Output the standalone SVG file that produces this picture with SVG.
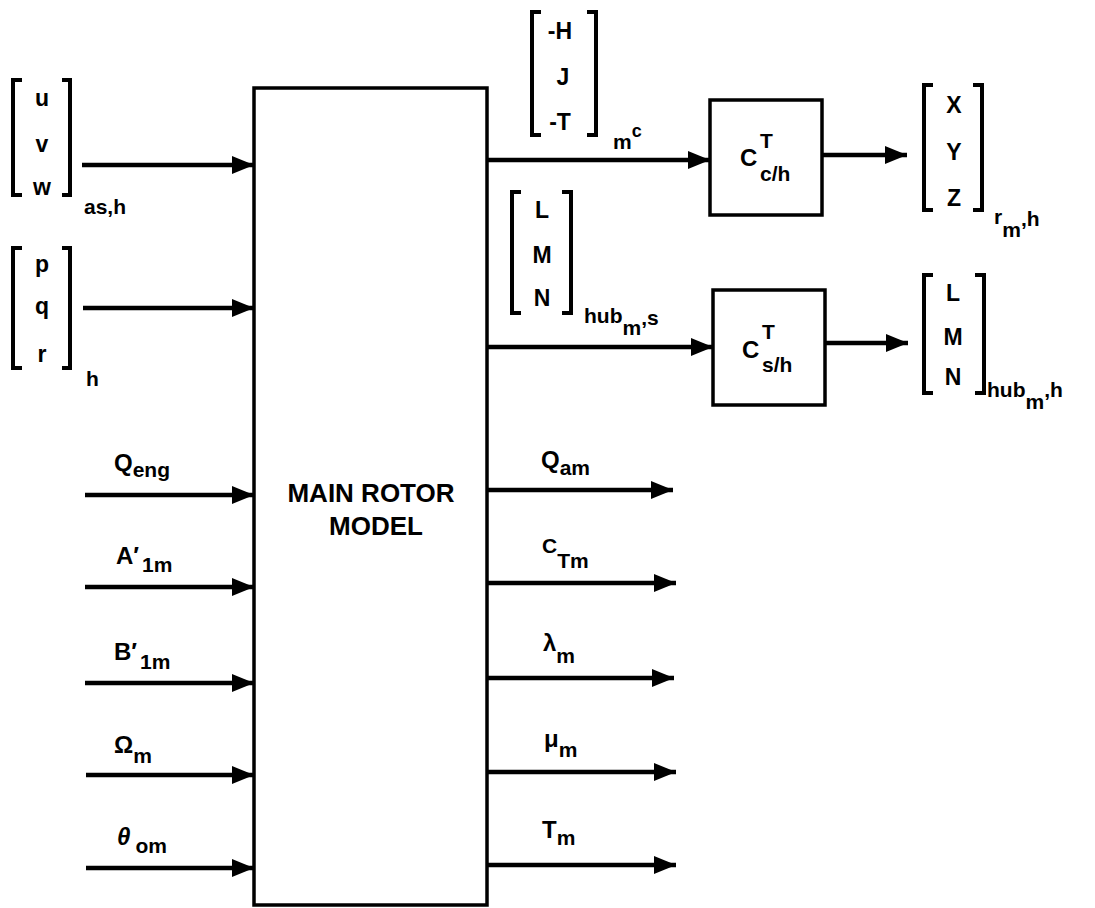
<svg xmlns="http://www.w3.org/2000/svg" width="1095" height="908" viewBox="0 0 1095 908">
<style>
text{font-family:"Liberation Sans",Arial,sans-serif;font-weight:bold;fill:#000}
.v{font-size:23px;text-anchor:middle}
.lb{font-size:24px}
.sb{font-size:21px}
.box{fill:#fff;stroke:#000;stroke-width:3.5}
.br{fill:none;stroke:#000;stroke-width:4;stroke-linejoin:miter}
.c{fill:none;stroke:#000;stroke-width:4.5;marker-end:url(#ah)}
</style>
<defs>
<marker id="ah" markerUnits="userSpaceOnUse" markerWidth="24" markerHeight="20" refX="22" refY="9" orient="auto">
<path d="M0,0 L22,9 L0,18 Z" fill="#000"/>
</marker>
</defs>
<rect width="1095" height="908" fill="#fff"/>

<g id="main-rotor">
<rect class="box" x="254" y="88" width="233" height="817"/>
<text x="371" y="502" font-size="26" text-anchor="middle">MAIN ROTOR</text>
<text x="376" y="535" font-size="26" text-anchor="middle">MODEL</text>
</g>

<g id="c-ch">
<rect class="box" x="710" y="100" width="112" height="115"/>
<text x="740" y="166" class="lb">C</text>
<text x="760" y="148" class="sb">T</text>
<text x="760" y="181" class="sb">c/h</text>
</g>

<g id="c-sh">
<rect class="box" x="713" y="290" width="112" height="115"/>
<text x="742" y="358" class="lb">C</text>
<text x="762" y="339" class="sb">T</text>
<text x="762" y="372" class="sb">s/h</text>
</g>

<g id="vec-uvw">
<path class="br" d="M22,80 H13 V195 H22 M62,80 H70 V195 H62"/>
<text class="v" x="42" y="106">u</text>
<text class="v" x="42" y="152">v</text>
<text class="v" x="42" y="195">w</text>
<text class="sb" x="84" y="214">as,h</text>
</g>

<g id="vec-pqr">
<path class="br" d="M22,248 H13 V368 H22 M62,248 H70 V368 H62"/>
<text class="v" x="42" y="272">p</text>
<text class="v" x="42" y="314">q</text>
<text class="v" x="42" y="362">r</text>
<text class="sb" x="86" y="386">h</text>
</g>

<g id="vec-hjt">
<path class="br" d="M541,12 H532 V135 H541 M587,12 H596 V135 H587"/>
<text class="v" x="560" y="39">-H</text>
<text class="v" x="563" y="85">J</text>
<text class="v" x="560" y="130">-T</text>
<text class="sb" x="613" y="149">m<tspan dy="-12" font-size="18">c</tspan></text>
</g>

<g id="vec-lmn-s">
<path class="br" d="M521,192 H512 V313 H521 M562,192 H571 V313 H562"/>
<text class="v" x="542" y="218">L</text>
<text class="v" x="542" y="263">M</text>
<text class="v" x="542" y="306">N</text>
<text class="sb" x="584" y="323">hub<tspan dy="12">m</tspan><tspan dy="-10">,s</tspan></text>
</g>

<g id="vec-xyz">
<path class="br" d="M933,85 H924 V210 H933 M973,85 H982 V210 H973"/>
<text class="v" x="954" y="113">X</text>
<text class="v" x="954" y="160">Y</text>
<text class="v" x="954" y="206">Z</text>
<text class="sb" x="994" y="224">r<tspan dy="13">m</tspan><tspan dy="-11">,h</tspan></text>
</g>

<g id="vec-lmn-h">
<path class="br" d="M933,275 H924 V393 H933 M975,275 H984 V393 H975"/>
<text class="v" x="953" y="301">L</text>
<text class="v" x="953" y="345">M</text>
<text class="v" x="953" y="385">N</text>
<text class="sb" x="987" y="397">hub<tspan dy="12">m</tspan><tspan dy="-12">,h</tspan></text>
</g>

<g id="in-labels">
<text class="lb" x="114" y="471">Q<tspan class="sb" dy="6">eng</tspan></text>
<text class="lb" x="116" y="564">A′<tspan class="sb" dy="8" dx="3">1m</tspan></text>
<text class="lb" x="114" y="660">B′<tspan class="sb" dy="9" dx="3">1m</tspan></text>
<text class="lb" x="114" y="753">Ω<tspan class="sb" dy="10">m</tspan></text>
<text class="lb" x="117" y="845" font-style="italic">θ<tspan class="sb" dy="8" dx="5" font-style="normal">om</tspan></text>
</g>

<g id="out-labels">
<text class="lb" x="541" y="468">Q<tspan class="sb" dy="7">am</tspan></text>
<text class="sb" x="542" y="553">C<tspan dy="15">Tm</tspan></text>
<text class="lb" x="543" y="651">λ<tspan class="sb" dy="12">m</tspan></text>
<text class="lb" x="544" y="747">μ<tspan class="sb" dy="10">m</tspan></text>
<text class="lb" x="542" y="838">T<tspan class="sb" dy="7">m</tspan></text>
</g>

<g id="connectors">
<line class="c" x1="82" y1="165" x2="254" y2="165"/>
<line class="c" x1="83" y1="308" x2="254" y2="308"/>
<line class="c" x1="85" y1="495" x2="254" y2="495"/>
<line class="c" x1="85" y1="587" x2="254" y2="587"/>
<line class="c" x1="85" y1="683" x2="254" y2="683"/>
<line class="c" x1="86" y1="775" x2="254" y2="775"/>
<line class="c" x1="86" y1="868" x2="254" y2="868"/>
<line class="c" x1="487" y1="160" x2="710" y2="160"/>
<line class="c" x1="487" y1="347" x2="713" y2="347"/>
<line class="c" x1="822" y1="155" x2="907" y2="155"/>
<line class="c" x1="825" y1="343" x2="908" y2="343"/>
<line class="c" x1="487" y1="490" x2="673" y2="490"/>
<line class="c" x1="487" y1="583" x2="676" y2="583"/>
<line class="c" x1="487" y1="678" x2="674" y2="678"/>
<line class="c" x1="487" y1="772" x2="676" y2="772"/>
<line class="c" x1="487" y1="865" x2="676" y2="865"/>
</g>
</svg>
